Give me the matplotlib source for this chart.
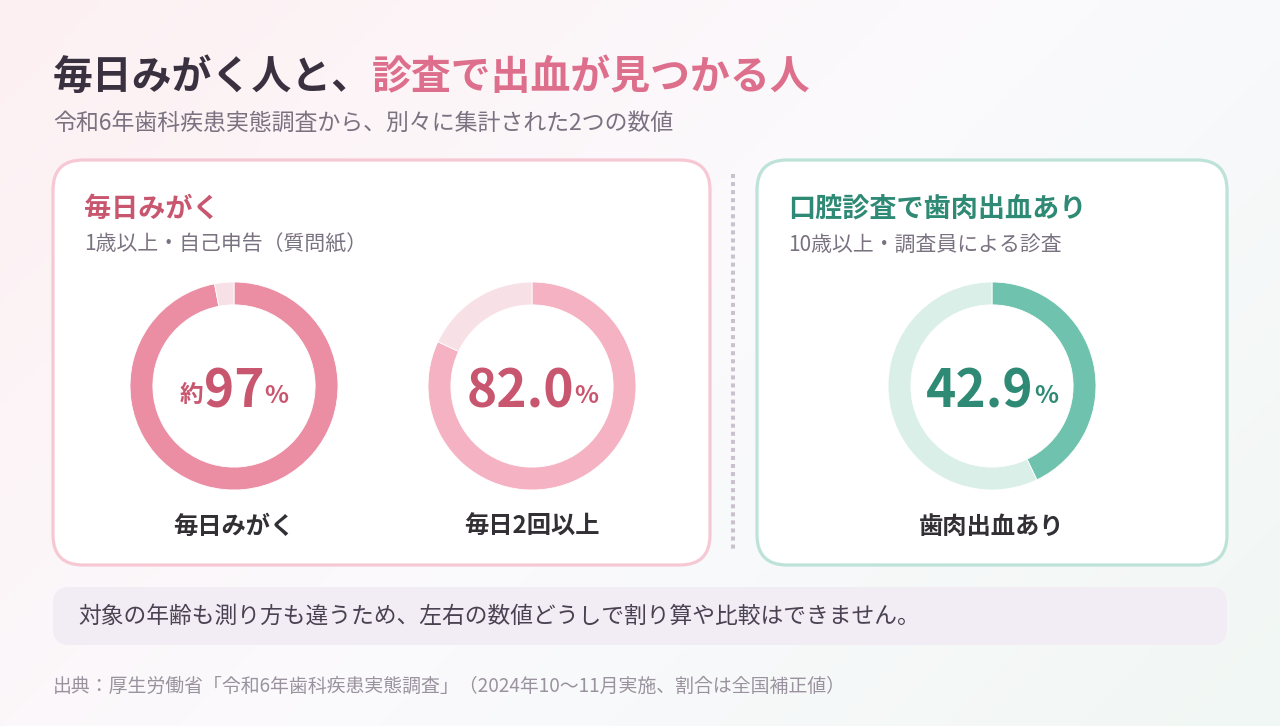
import matplotlib
matplotlib.use("Agg")
import matplotlib.pyplot as plt
import numpy as np
from matplotlib.patches import FancyBboxPatch
from matplotlib.colors import to_rgb

plt.rcParams['font.family'] = ['Noto Sans CJK JP', 'DejaVu Sans']

# data
title_dark = "毎日みがく人と、"
title_pink = "診査で出血が見つかる人"
subtitle = "令和6年歯科疾患実態調査から、別々に集計された2つの数値"
card_titles = ["毎日みがく", "口腔診査で歯肉出血あり"]
card_notes = ["1歳以上・自己申告（質問紙）", "10歳以上・調査員による診査"]
donut_labels = ["毎日みがく", "毎日2回以上", "歯肉出血あり"]
donut_values = [97, 82.0, 42.9]
value_texts = ["97", "82.0", "42.9"]
value_prefix = ["約", "", ""]
note_text = "対象の年齢も測り方も違うため、左右の数値どうしで割り算や比較はできません。"
source_text = "出典：厚生労働省「令和6年歯科疾患実態調査」（2024年10〜11月実施、割合は全国補正値）"

W, H = 1280, 726
fig = plt.figure(figsize=(W / 100, H / 100), dpi=100)

# background gradient
bg = fig.add_axes([0, 0, 1, 1])
bg.set_axis_off()
xx, yy = np.meshgrid(np.linspace(0, 1, 256), np.linspace(0, 1, 146))
t = (xx * W + yy * H) / (W + H)
c0 = np.array(to_rgb("#fdf0f2"))
c1 = np.array(to_rgb("#fbfafd"))
c2 = np.array(to_rgb("#f1f7f4"))
img = np.where(t[..., None] < 0.5,
               c0 + (c1 - c0) * (t[..., None] / 0.5),
               c1 + (c2 - c1) * ((t[..., None] - 0.5) / 0.5))
bg.imshow(img, extent=[0, W, H, 0], aspect='auto')
bg.set_xlim(0, W)
bg.set_ylim(H, 0)

ax = fig.add_axes([0, 0, 1, 1])
ax.set_axis_off()
ax.set_xlim(0, W)
ax.set_ylim(H, 0)
ax.patch.set_alpha(0)

renderer = fig.canvas.get_renderer()


def text_run(x, y, pieces, ha='left'):
    # pieces: (text, size, color, weight, dy)
    objs = []
    widths = []
    for s, size, color, weight, dy in pieces:
        o = ax.text(0, y + dy, s, fontsize=size, color=color, fontweight=weight,
                    va='baseline', ha='left', zorder=4)
        widths.append(o.get_window_extent(renderer).width)
        objs.append(o)
    total = sum(widths)
    start = x - total / 2 if ha == 'center' else x
    for o, w in zip(objs, widths):
        o.set_x(start)
        start += w


# title
dark = "#3a3140"
pink_txt = "#c9566f"
green_txt = "#2e8a74"
text_run(53, 89, [(title_dark, 28.7, dark, 'bold', 0), (title_pink, 28.7, "#de6f8c", 'bold', 0)])
ax.text(53, 130, subtitle, fontsize=16.5, color="#7a7280", va='baseline')

# cards
cards = [(53, 160, 657, 405, "#f6c8d4"), (757, 160, 470, 405, "#bde2d7")]
for x0, y0, w, h, ec in cards:
    ax.add_patch(FancyBboxPatch((x0, y0), w, h, boxstyle="round,pad=0,rounding_size=30",
                                fc="white", ec=ec, lw=2.3, zorder=2))
ax.plot([733, 733], [174, 552], color="#c9c1cd", lw=2.9, ls=(0, (1, 1)), zorder=2)

title_cols = [pink_txt, green_txt]
for (x0, y0, w, h, ec), tt, nn, tc in zip(cards, card_titles, card_notes, title_cols):
    ax.text(x0 + 31, 217, tt, fontsize=19.5, fontweight='bold', color=tc, va='baseline', zorder=3)
    ax.text(x0 + 31, 251, nn, fontsize=15, color="#7a7280", va='baseline', zorder=3)

# donuts
centers = [234, 532, 992]
cy = 386
r = 104
ring_cols = [("#eb8da3", "#f8e0e7"), ("#f4b2c2", "#f8e0e7"), ("#6fc2ad", "#dbefe9")]
num_cols = [pink_txt, pink_txt, green_txt]
for cx, v, cols in zip(centers, donut_values, ring_cols):
    dax = fig.add_axes([(cx - r) / W, 1 - (cy + r) / H, 2 * r / W, 2 * r / H])
    dax.pie([v, 100 - v], colors=cols, startangle=90, counterclock=False, radius=1,
            wedgeprops=dict(width=0.22, edgecolor='white', linewidth=0.6))
    dax.set_xlim(-1, 1)
    dax.set_ylim(-1, 1)
    dax.set_aspect('equal')

for cx, pre, vt, nc, lab in zip(centers, value_prefix, value_texts, num_cols, donut_labels):
    pieces = []
    if pre:
        pieces.append((pre, 17, nc, 'bold', -6))
    pieces.append((vt, 37, nc, 'bold', 0))
    pieces.append(("%", 18, nc, 'bold', -5))
    text_run(cx, 408, pieces, ha='center')
    ax.text(cx, 527, lab, fontsize=17.5, fontweight='bold', color="#333035", ha='center', va='center')

# note box
ax.add_patch(FancyBboxPatch((53, 587), 1174, 58, boxstyle="round,pad=0,rounding_size=16",
                            fc="#f2edf5", ec='none', zorder=2))
ax.text(78, 616, note_text, fontsize=16.4, color="#4a4252", va='center', zorder=3)
ax.text(53, 686, source_text, fontsize=13.6, color="#9a929e", va='center')

fig.savefig("out.png", dpi=100)
